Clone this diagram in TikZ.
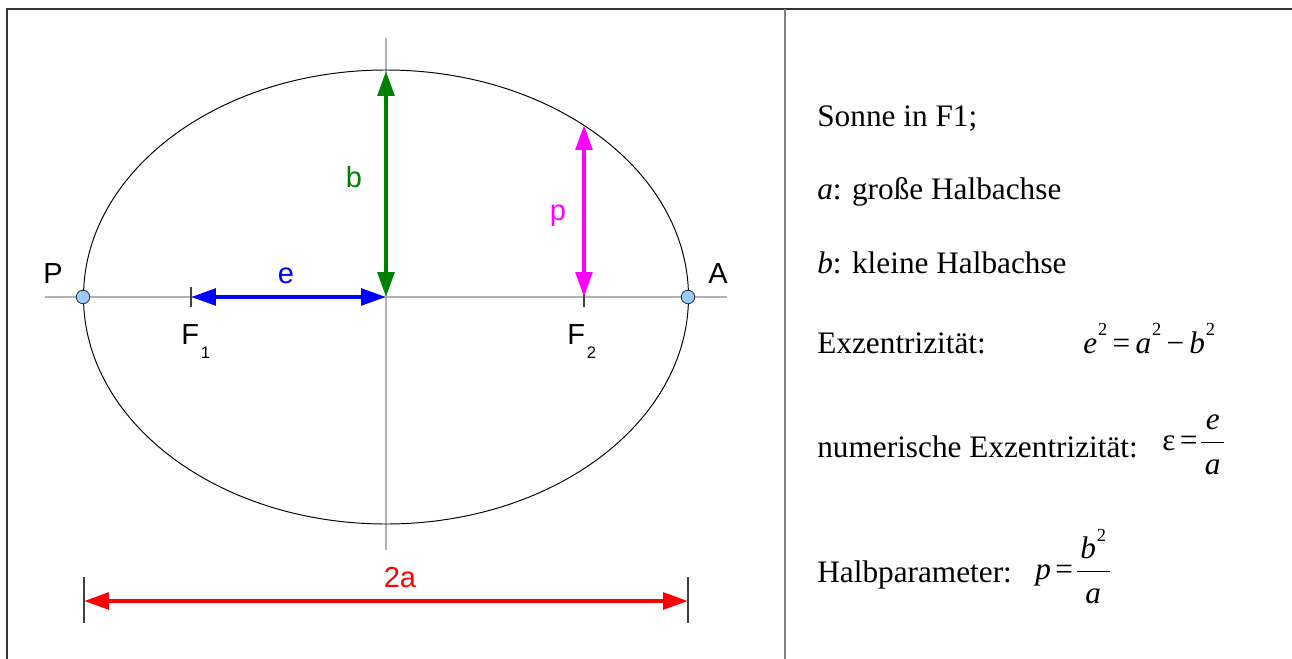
\documentclass[tikz,border=0pt]{standalone}
\usepackage{fontspec}
\setmainfont{Liberation Serif}
\newfontfamily\labelfont{Liberation Sans}
\usetikzlibrary{arrows.meta}
\definecolor{apsisblue}{RGB}{153,204,255}
\definecolor{orbitgreen}{RGB}{0,128,0}
\definecolor{parmagenta}{RGB}{255,0,255}
\tikzset{
  axisline/.style={black!30,line width=0.75pt},
  tick/.style={black!75,line width=0.75pt},
  dimarrow/.style={line width=2.4pt,{Triangle[length=0.5cm,width=0.33cm]}-{Triangle[length=0.5cm,width=0.33cm]}},
  lbl/.style={font=\labelfont\fontsize{16.5}{19}\selectfont,inner sep=0pt},
  txt/.style={anchor=base west,inner sep=0pt,font=\fontsize{17.8}{21}\selectfont},
  apsis/.style={circle,draw=black!80,fill=apsisblue,minimum size=0.27cm,inner sep=0pt,line width=0.5pt}
}
\newcommand{\sub}[1]{\kern1pt\raisebox{-0.5em}{\fontsize{9.5}{11}\selectfont #1}}
\newcommand{\sq}{\kern0.5pt\raisebox{0.55em}{\fontsize{10.5}{12}\selectfont 2}}
\newcommand{\num}[1]{\kern2pt\mbox{#1}\rule[-5pt]{0pt}{1pt}\kern2pt}
\newcommand{\den}[1]{\kern2pt\rule{0pt}{17pt}\mbox{#1}\kern2pt}
\begin{document}
\begin{tikzpicture}[x=0.02cm,y=-0.02cm]
\useasboundingbox (0,0) rectangle (1292,659);
% frame
\draw[black!80,line width=0.85pt] (7,659) -- (7,9) -- (1292,9);
\draw[black!50,line width=0.85pt] (785,9) -- (785,659);
% ellipse and axes
\coordinate (M) at (386,297);
\coordinate (F1) at (191,297);
\coordinate (F2) at (584,297);
\coordinate (B) at (386,71);
\coordinate (Pp) at (584,125);
\draw[axisline] (45,297) -- (727,297);
\draw[axisline] (386,38) -- (386,550);
\draw[black,line width=0.55pt] (M) ellipse [x radius=302.5,y radius=227];
\foreach \x in {191,584} { \draw[tick] (\x,287) -- (\x,307); }
\foreach \x in {84,688} { \draw[tick] (\x,577) -- (\x,623); }
\coordinate (L) at (84,601);
\coordinate (R) at (688,601);
% arrows
\draw[dimarrow,blue] (F1) -- (M);
\draw[dimarrow,orbitgreen] (B) -- (M);
\draw[dimarrow,parmagenta] (Pp) -- (F2);
\draw[dimarrow,red] (L) -- (R);
\node[apsis] (P) at (83,297) {};
\node[apsis] (A) at (688,297) {};
% labels
\node[lbl] (lP) at (53,274) {P};
\node[lbl] (lA) at (718,274) {A};
\node[lbl,blue] (le) at (286,276) {e};
\node[lbl,orbitgreen] (lb) at (354,177) {b};
\node[lbl,parmagenta] (lp) at (558,216) {p};
\node[lbl,red] (l2a) at (400,578) {2a};
\node[lbl,anchor=base west] (lF1) at (181,344) {F\sub{1}};
\node[lbl,anchor=base west] (lF2) at (567,344) {F\sub{2}};
% text
\node[txt] (sun) at (817,126) {Sonne in F1;};
\node[txt] (ha) at (817,199) {\textit{a}: große Halbachse};
\node[txt] (hb) at (817,273) {\textit{b}: kleine Halbachse};
\node[txt] (ex) at (817,353) {Exzentrizität:};
\node[txt] (exf) at (1083,353) {\textit{e}\sq\kern3pt=\kern3pt\textit{a}\sq\kern3pt−\kern3pt\textit{b}\sq};
\node[txt] (nex) at (817,457) {numerische Exzentrizität:};
\node[txt] (nexf) at (1162,450) {ε\kern2.5pt=\kern1pt$\displaystyle\frac{\num{\itshape e}}{\den{\itshape a}}$};
\node[txt] (hp) at (817,582) {Halbparameter:};
\node[txt] (hpf) at (1035,579) {\textit{p}\kern2.5pt=\kern1pt$\displaystyle\frac{\num{\itshape b\upshape\sq}}{\den{\itshape a}}$};
\end{tikzpicture}
\end{document}
